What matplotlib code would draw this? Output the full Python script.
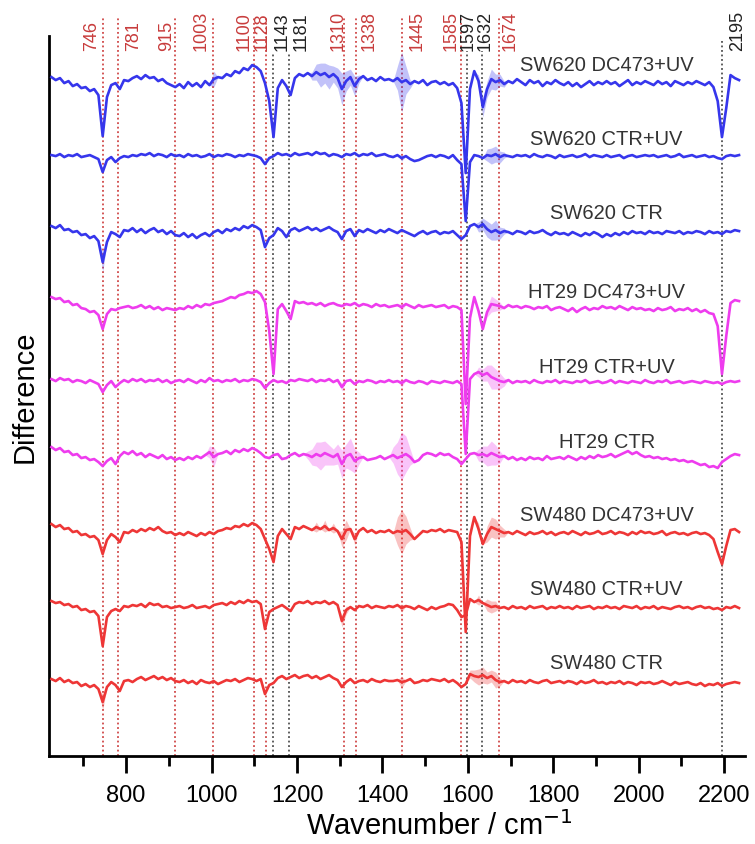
import matplotlib.pyplot as plt
import numpy as np
from matplotlib.ticker import MultipleLocator

plt.rcParams['font.family'] = ['Liberation Sans', 'DejaVu Sans']

# sampling grid of the difference spectra (cm-1)
wavenumber = np.arange(625, 2236, 10)

# difference spectra, one value per grid point
sw620_dc_uv = [6, 3, 5, 0, 2, -3, -1, -5, -4, -8,
               -6, -12, -53, -14, -2, 0, -6, 3, 2, 5,
               7, 4, 8, 5, 6, 2, 4, 0, -2, -4,
               -1, -5, 1, -3, 0, -4, 2, -2, 4, 6,
               5, 9, 7, 12, 10, 15, 13, 18, 16, 12,
               0, -18, -54, -5, 3, -3, -12, 5, 9, 7,
               10, 7, 11, 8, 10, 6, 9, 5, -6, 2,
               6, -3, 4, 7, 3, 5, 2, 6, 3, 4,
               2, 5, 1, 3, -1, 2, 0, 3, -2, 1,
               2, -1, 1, -2, 0, -5, -20, -90, -6, 12,
               2, -24, -6, 4, 1, 3, -1, 2, 0, 4,
               1, -2, 3, 0, 2, -3, 1, -1, 3, 0,
               -2, 1, -3, 0, -4, -1, 2, -2, 1, -1,
               2, -1, 1, -3, 0, 3, -2, 1, -1, 2,
               0, -2, 2, -1, 1, -3, 2, 0, -2, 1,
               -1, 2, 0, -2, 1, -4, -18, -54, -25, 8,
               5, 3]
sw620_ctr_uv = [1, 0, 2, -1, 1, 0, 2, -1, 0, 1,
                -1, -3, -16, -4, -1, -6, -2, 0, -1, 1,
                0, 2, 1, 3, 0, 2, 1, -1, 2, 0,
                1, -1, 2, 0, 1, -1, 0, 2, -1, 1,
                0, 2, 1, -1, 1, 0, 2, 1, 0, -2,
                -8, -2, 0, 3, 1, 2, 0, 3, 1, 2,
                3, 1, 4, 2, 3, 0, 2, 1, -1, 2,
                1, 3, 0, 2, 1, 3, 0, 1, 2, 0,
                -1, 1, -2, 0, -3, -5, -4, -2, 0, 1,
                -1, 1, 0, -2, 1, -4, -8, -65, -6, 1,
                0, -2, 1, 0, 2, -1, 1, 0, -1, 1,
                0, 1, -1, 2, 0, -1, 1, 0, -2, 1,
                -1, 0, 1, -1, 0, 2, -1, 1, 0, -1,
                1, -1, 0, 1, -2, 0, 1, -1, 0, 1,
                0, 1, -1, 0, 1, -1, 0, 2, -1, 0,
                1, -1, 0, 1, -1, 0, -2, -3, 0, 1,
                0, 1]
sw620_ctr = [6, 4, 7, 2, 3, 0, 1, -3, -2, -6,
             -4, -9, -30, -10, 0, -2, -5, 2, 1, 4,
             0, 3, -1, 2, 4, 0, 2, -2, 1, -3,
             -4, -1, -5, -2, -6, -3, -1, -4, 0, 2,
             -1, 3, 1, 4, 2, 6, 4, 7, 5, 2,
             -15, -6, -3, 4, 1, -5, 2, 4, 1, 3,
             5, 2, 4, 1, 3, 5, 2, 0, -7, 1,
             3, -4, 2, 0, 3, 1, -1, 2, 0, 3,
             1, -1, 2, 0, -2, -4, -1, 1, -2, 0,
             1, -2, 0, -1, 1, -3, -7, -3, 6, 8,
             5, 8, 3, 0, 2, -1, 1, 0, -2, 1,
             0, -2, 1, -1, 0, 2, -1, -3, 0, -2,
             -1, -3, 0, -2, -4, -1, -3, 0, -2, -5,
             -2, -4, -1, -3, 0, -2, 1, -1, 0, -2,
             1, -1, 0, -2, 1, 0, -1, 1, -2, 0,
             -1, 1, 0, -2, 1, -1, 0, -2, 1, 0,
             2, 1]
ht29_dc_uv = [9, 7, 8, 4, 5, 1, 2, -2, -3, -6,
              -5, -9, -23, -8, -3, -4, -2, -1, 0, -2,
              -1, 1, -2, 0, -3, -1, -4, -2, -3, -4,
              -2, -3, 0, -2, 1, -1, 2, 1, 3, 4,
              5, 7, 9, 8, 11, 12, 14, 13, 15, 12,
              4, -25, -68, -3, 2, -5, -13, 5, 3, 4,
              2, 3, 1, 3, 0, 2, 3, 1, 0, 2,
              1, 3, 0, 2, 1, -1, 2, 0, 1, -1,
              0, 1, -1, 2, 0, -2, 1, -1, 0, 1,
              -1, 0, 1, -2, 0, -1, -4, -98, -12, 9,
              -5, -23, -6, 2, 1, 0, -2, 1, -1, 0,
              -2, 0, -1, -3, -1, -2, 0, -4, -2, -1,
              -3, -5, -2, -6, -3, -1, -4, -2, -3, 0,
              -2, -1, -3, 0, -2, -4, -1, -3, -2, -4,
              -3, -5, -2, -4, -3, -1, -5, -3, -4, -2,
              -5, -3, -6, -4, -7, -8, -20, -68, -30, 3,
              6, 5]
ht29_ctr_uv = [3, 1, 4, 2, 3, 0, 2, 1, -1, 2,
               0, -2, -10, -3, 1, -5, -1, 2, 0, 3,
               1, 3, 0, 2, 1, 3, 0, 2, -1, 1,
               2, 0, 3, 1, -1, 2, 0, 4, 1, 2,
               0, 2, 1, 3, 0, 2, 1, 3, 2, 0,
               -6, -1, 2, 0, 1, -1, 2, 1, 3, 2,
               1, 3, 0, 2, 1, 3, 0, 2, -5, 1,
               2, -2, 1, 0, 2, 1, -1, 1, 0, 2,
               0, 1, -1, 2, 0, -1, 1, 0, -2, 1,
               0, -1, 1, 0, -1, 1, -2, -72, 3, 8,
               10, 7, 9, 5, 3, 1, 0, 2, -1, 1,
               0, 1, -1, 2, 0, -1, 1, 0, 2, -1,
               1, 0, -1, 1, 0, 2, -1, 0, 1, -1,
               0, 2, -1, 1, 0, -1, 1, 0, -1, 2,
               0, -1, 1, 0, 2, -1, 0, 1, -1, 0,
               1, 0, -1, 1, 0, -1, 0, -2, 0, 1,
               0, 1]
ht29_ctr = [9, 6, 8, 4, 5, 1, 2, -2, -1, -4,
            -3, -6, -10, -5, -2, -8, 0, 4, 2, 5,
            1, 3, -1, 2, 0, -2, 1, -3, -1, -4,
            -2, -4, -1, -3, 0, -2, 1, 4, -1, 2,
            3, 5, 2, 6, 4, 7, 5, 8, 6, 3,
            -1, -2, 1, 2, -3, -2, 1, 3, 0, 2,
            1, -1, 2, 0, 3, 1, -1, 2, -8, 0,
            2, -5, -2, -1, -4, -3, -2, 0, -3, -1,
            1, -2, 0, 2, -1, -6, -4, 1, 3, 2,
            0, 3, 1, 2, -1, -3, -8, -3, 2, 3,
            1, 2, 0, 3, 1, -1, 0, -3, -1, -4,
            -2, -4, -1, -3, -2, -4, 0, -3, -2, -1,
            -3, 0, -2, -4, -1, -3, 0, -2, 1, -1,
            0, 2, -1, 1, 3, 5, 2, 4, 1, -1,
            0, -2, -1, -3, -2, -4, -3, -5, -4, -6,
            -5, -7, -9, -8, -11, -10, -12, -6, -3, 0,
            2, 1]
sw480_dc_uv = [8, 5, 7, 3, 4, 0, 1, -3, -2, -5,
               -4, -8, -22, -8, -2, -5, -10, 0, -1, 2,
               0, 3, 1, 4, 2, 5, 1, -1, 0, -3,
               -1, -3, 0, -2, -4, -1, -3, 0, -2, 1,
               2, 4, 3, 6, 5, 8, 6, 9, 7, 3,
               -7, -17, -30, -4, 3, -2, -7, 5, 3, 6,
               4, 2, 5, 3, 6, 2, 4, 1, -7, 2,
               3, -7, 1, 4, 0, 2, -1, 1, 0, 2,
               -1, 1, 0, 2, -2, -7, -3, 1, 0, 2,
               1, 3, 0, 2, 1, 0, -10, -100, -4, 15,
               3, -12, -2, 5, 3, 1, -1, 0, -2, 1,
               -1, -3, 0, -2, -1, 1, -2, 0, -3, -1,
               0, -2, 1, -1, -3, 0, -2, -1, 1, -2,
               -1, 1, -2, 0, -1, -3, 0, -2, 1, -1,
               0, -2, -1, 1, -3, -1, 0, -2, -1, -3,
               -1, 0, -2, -1, -3, -7, -20, -32, -14, 2,
               3, 0]
sw480_ctr_uv = [6, 4, 5, 2, 3, 0, 1, -3, -2, -5,
                -4, -9, -39, -10, -4, -2, -4, 1, 0, 2,
                1, 3, 0, 4, 2, 3, 0, 1, -1, 0,
                1, -1, 0, 2, -1, 0, 1, -1, 2, 3,
                4, 2, 5, 3, 6, 4, 7, 5, 6, 3,
                -22, -5, -2, 0, 2, -1, -4, 3, 5, 4,
                6, 3, 5, 4, 6, 3, 5, 2, -14, -3,
                0, -3, 1, 0, 2, -1, 1, 0, -1, 1,
                0, 2, -1, 1, 0, -2, 1, -1, -3, 0,
                -2, 0, 1, 3, 2, -3, -10, -8, 8, 5,
                7, 4, 2, 0, 1, -1, 0, -2, 1, -1,
                0, -2, 1, -1, 0, 1, -2, 0, -1, 1,
                -1, 0, -2, 1, -1, 0, 1, -2, 0, -1,
                1, -1, 0, -2, 1, 0, -1, 1, -2, 0,
                -1, 1, -2, 0, -1, -2, 0, 1, -1, 0,
                -2, 0, 1, -1, 0, -2, -1, -3, 0, -1,
                1, -1]
sw480_ctr = [2, 0, 3, -1, 1, -2, -1, -5, -3, -6,
             -4, -8, -21, -6, -1, -4, -10, 0, 1, -1,
             2, 4, 1, 3, 5, 2, 4, 1, 3, 0,
             -1, 1, -2, 0, -3, 1, -1, -2, 0, -3,
             -1, 1, 0, 2, -1, 1, 3, 2, 0, 2,
             -13, -4, -2, 3, 5, 2, 4, 6, 3, 5,
             6, 3, 5, 2, 4, 6, 3, 1, -6, -1,
             2, -2, 0, 1, -1, 2, 0, -1, 1, 0,
             0, 1, -1, 0, 2, -2, -1, 1, 0, 2,
             1, 0, 2, -1, 1, -2, -6, -3, 7, 5,
             4, 6, 3, 5, 1, -1, 0, -2, 1, -1,
             0, -2, 1, -1, -2, 0, 1, -2, -1, 0,
             -2, 0, -1, -3, 0, -2, -1, 1, -2, -1,
             -3, -1, -2, 0, -3, -1, -2, -4, -1, -2,
             -1, -3, -2, 0, -2, -4, -1, -3, -2, -1,
             -3, -4, -2, -5, -3, -4, -2, -5, -3, -2,
             -1, -2]

# spread (std band) where it is visible: (wavenumber, half width)
sw620_dc_uv_band = [(1005, 8), (1235, 4), (1245, 8), (1255, 12), (1265, 10), (1275, 12),
                    (1285, 8), (1295, 10), (1305, 16), (1315, 10), (1325, 8), (1335, 10),
                    (1345, 4), (1435, 12), (1445, 30), (1455, 14), (1465, 4), (1625, 6),
                    (1635, 10), (1645, 8), (1655, 10), (1665, 8), (1675, 6), (1685, 3)]
sw620_ctr_uv_band = [(1445, 3), (1645, 6), (1655, 8), (1665, 8), (1675, 6), (1685, 3)]
sw620_ctr_band = [(745, 10), (1625, 5), (1635, 6), (1645, 8), (1655, 8), (1665, 10),
                  (1675, 6), (1685, 3)]
ht29_dc_uv_band = [(1445, 4), (1645, 5), (1655, 8), (1665, 6), (1675, 4)]
ht29_ctr_uv_band = [(1305, 4), (1445, 4), (1625, 5), (1635, 6), (1645, 8), (1655, 12),
                    (1665, 10), (1675, 8), (1685, 4)]
ht29_ctr_band = [(995, 6), (1005, 10), (1225, 4), (1235, 8), (1245, 12), (1255, 14),
                 (1265, 12), (1275, 10), (1285, 8), (1295, 10), (1305, 14), (1315, 12),
                 (1325, 16), (1335, 12), (1345, 6), (1425, 8), (1435, 16), (1445, 24),
                 (1455, 18), (1465, 8), (1625, 6), (1635, 8), (1645, 10), (1655, 12),
                 (1665, 10), (1675, 6)]
sw480_dc_uv_band = [(1245, 5), (1265, 6), (1285, 5), (1305, 8), (1315, 10), (1335, 6),
                    (1435, 14), (1445, 22), (1455, 14), (1465, 6), (1625, 6), (1645, 8),
                    (1655, 10), (1665, 10), (1675, 6), (1685, 4), (2195, 5)]
sw480_ctr_uv_band = [(1305, 6), (1315, 4), (1445, 4), (1625, 5), (1645, 6), (1655, 6),
                     (1665, 5)]
sw480_ctr_band = [(745, 8), (1445, 6), (1605, 4), (1615, 6), (1625, 8), (1635, 8),
                  (1645, 6), (1655, 6), (1665, 8), (1675, 4)]

names = ['SW620 DC473+UV', 'SW620 CTR+UV', 'SW620 CTR',
         'HT29 DC473+UV', 'HT29 CTR+UV', 'HT29 CTR',
         'SW480 DC473+UV', 'SW480 CTR+UV', 'SW480 CTR']
spectra = [sw620_dc_uv, sw620_ctr_uv, sw620_ctr, ht29_dc_uv, ht29_ctr_uv, ht29_ctr,
           sw480_dc_uv, sw480_ctr_uv, sw480_ctr]
bands = [sw620_dc_uv_band, sw620_ctr_uv_band, sw620_ctr_band, ht29_dc_uv_band,
         ht29_ctr_uv_band, ht29_ctr_band, sw480_dc_uv_band, sw480_ctr_uv_band, sw480_ctr_band]
offsets = [673, 600, 524, 450, 374, 300, 224, 149, 75]

# marked bands
peaks = [746, 781, 915, 1003, 1100, 1128, 1143, 1181, 1310, 1338, 1445, 1585, 1597, 1632, 1674, 2195]
peaks_black = [1143, 1181, 1597, 1632, 2195]

# layout
name_y = [692, 618, 544, 465, 390, 315, 242, 168, 94]
peak_label_x = [720, 818, 894, 975, 1075, 1119, 1166, 1210, 1297, 1370, 1481, 1560, 1600, 1641, 1699, 2232]
line_top = {1143: 702, 1181: 702, 1597: 705, 1632: 705, 2195: 717}
blue, magenta, red = '#3636ec', '#ee3cee', '#ee3636'
colors = [blue] * 3 + [magenta] * 3 + [red] * 3

fig = plt.figure(figsize=(7.55, 8.45), dpi=100)
ax = fig.add_axes([0.0653, 0.1041, 0.9215, 0.852])

for p in peaks:
    if p in peaks_black:
        ax.vlines(p, 0, line_top[p], colors='#505050', linestyles=(0, (1, 1.5)),
                  linewidth=1.3, zorder=1, clip_on=False)
    else:
        ax.vlines(p, 0, 738, colors='#d04848', linestyles=(0, (1, 1.5)),
                  linewidth=1.3, zorder=1, clip_on=False)

for lx, p in zip(peak_label_x, peaks):
    ax.text(lx, 706, str(p), rotation=90, ha='center', va='bottom', fontsize=13,
            color='#222222' if p in peaks_black else '#c83c3c', clip_on=False)

for name, y, band, off, c, ny in zip(names, spectra, bands, offsets, colors, name_y):
    y = np.array(y, dtype=float) + off
    s = np.zeros_like(y)
    for bx, bv in band:
        s[np.searchsorted(wavenumber, bx)] = bv
    ax.fill_between(wavenumber, y - s, y + s, color=c, alpha=0.3, linewidth=0, zorder=2)
    ax.plot(wavenumber, y, color=c, linewidth=1.9, zorder=3)
    ax.text(1925, ny, name, ha='center', va='center', fontsize=14.5, color='#333333')

ax.set_xlim(620, 2249)
ax.set_ylim(0, 720)
ax.spines['top'].set_visible(False)
ax.spines['right'].set_visible(False)
ax.spines['left'].set_linewidth(2)
ax.spines['bottom'].set_linewidth(2)
ax.set_yticks([])
ax.xaxis.set_major_locator(MultipleLocator(200))
ax.xaxis.set_minor_locator(MultipleLocator(100))
ax.tick_params(axis='x', which='major', direction='out', length=12, width=2,
               labelsize=17, pad=8)
ax.tick_params(axis='x', which='minor', direction='out', length=7, width=2)
ax.set_xlabel('Wavenumber / cm$^{-1}$', fontsize=21)
ax.xaxis.set_label_coords(0.56, -0.075)
ax.set_ylabel('Difference', fontsize=21, labelpad=8)

fig.savefig('out.png', dpi=100)
